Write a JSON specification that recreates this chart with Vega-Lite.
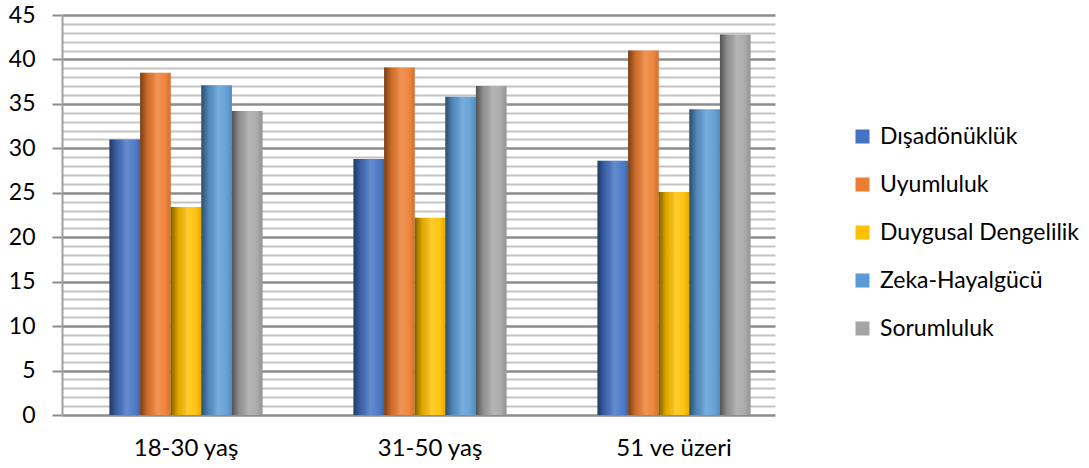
{
  "$schema": "https://vega.github.io/schema/vega-lite/v6.json",
  "width": 713,
  "height": 400,
  "autosize": {"type": "none"},
  "padding": {"left": 62, "top": 15, "right": 314, "bottom": 53},
  "background": "white",
  "config": {
    "font": "Lato",
    "view": {"stroke": null}
  },
  "data": {
    "values": [
      {"grup": "18-30 yaş", "boyut": "Dışadönüklük", "deger": 31.0},
      {"grup": "18-30 yaş", "boyut": "Uyumluluk", "deger": 38.5},
      {"grup": "18-30 yaş", "boyut": "Duygusal Dengelilik", "deger": 23.4},
      {"grup": "18-30 yaş", "boyut": "Zeka-Hayalgücü", "deger": 37.1},
      {"grup": "18-30 yaş", "boyut": "Sorumluluk", "deger": 34.2},
      {"grup": "31-50 yaş", "boyut": "Dışadönüklük", "deger": 28.8},
      {"grup": "31-50 yaş", "boyut": "Uyumluluk", "deger": 39.1},
      {"grup": "31-50 yaş", "boyut": "Duygusal Dengelilik", "deger": 22.2},
      {"grup": "31-50 yaş", "boyut": "Zeka-Hayalgücü", "deger": 35.8},
      {"grup": "31-50 yaş", "boyut": "Sorumluluk", "deger": 37.0},
      {"grup": "51 ve üzeri", "boyut": "Dışadönüklük", "deger": 28.6},
      {"grup": "51 ve üzeri", "boyut": "Uyumluluk", "deger": 41.0},
      {"grup": "51 ve üzeri", "boyut": "Duygusal Dengelilik", "deger": 25.1},
      {"grup": "51 ve üzeri", "boyut": "Zeka-Hayalgücü", "deger": 34.4},
      {"grup": "51 ve üzeri", "boyut": "Sorumluluk", "deger": 42.8}
    ]
  },
  "encoding": {
    "x": {
      "field": "grup", "type": "nominal", "sort": null,
      "scale": {"paddingInner": 0.373, "paddingOuter": 0.1475, "align": 0.66},
      "axis": {
        "title": null, "labelAngle": 0, "labelFontSize": 24, "labelColor": "#000",
        "labelPadding": 21, "domain": false, "ticks": false
      }
    },
    "xOffset": {
      "field": "boyut", "type": "nominal",
      "sort": ["Dışadönüklük", "Uyumluluk", "Duygusal Dengelilik", "Zeka-Hayalgücü", "Sorumluluk"],
      "scale": {"paddingInner": 0, "paddingOuter": 0}
    },
    "y": {
      "field": "deger", "type": "quantitative",
      "scale": {"domain": [0, 45], "nice": false},
      "axis": {
        "title": null,
        "values": [0,1,2,3,4,5,6,7,8,9,10,11,12,13,14,15,16,17,18,19,20,21,22,23,24,25,26,27,28,29,30,31,32,33,34,35,36,37,38,39,40,41,42,43,44,45],
        "labelExpr": "datum.value % 5 === 0 ? datum.label : ''",
        "labelFontSize": 23, "labelColor": "#000", "labelPadding": 17,
        "tickSize": 10, "tickWidth": 2,
        "tickColor": {"condition": {"test": "datum.value % 5 === 0", "value": "#8c8c8c"}, "value": "transparent"},
        "domainColor": "#a0a0a0", "domainWidth": 2,
        "grid": true,
        "gridColor": {"condition": {"test": "datum.value % 5 === 0", "value": "#8c8c8c"}, "value": "#c4c4c4"},
        "gridWidth": {"condition": {"test": "datum.value % 5 === 0", "value": 2.5}, "value": 2}
      }
    }
  },
  "layer": [
    {
      "mark": {"type": "bar"},
      "encoding": {
        "color": {
          "field": "boyut", "type": "nominal",
          "sort": ["Dışadönüklük", "Uyumluluk", "Duygusal Dengelilik", "Zeka-Hayalgücü", "Sorumluluk"],
          "scale": {
            "domain": ["Dışadönüklük", "Uyumluluk", "Duygusal Dengelilik", "Zeka-Hayalgücü", "Sorumluluk"],
            "range": ["#4472C4", "#ED7D31", "#FFC000", "#5B9BD5", "#A5A5A5"]
          },
          "legend": {
            "title": null, "orient": "none", "legendX": 789, "legendY": 110,
            "symbolType": "square", "symbolSize": 196, "symbolStrokeWidth": 0,
            "labelFontSize": 23, "labelColor": "#000", "rowPadding": 24, "labelOffset": 6,
            "labelLimit": 300
          }
        }
      }
    },
    {
      "mark": {
        "type": "bar",
        "fill": {
          "gradient": "linear", "x1": 0, "y1": 0, "x2": 1, "y2": 0,
          "stops": [
            {"offset": 0, "color": "rgba(0,0,0,0.5)"},
            {"offset": 0.25, "color": "rgba(0,0,0,0.12)"},
            {"offset": 0.55, "color": "rgba(255,255,255,0.18)"},
            {"offset": 0.8, "color": "rgba(255,255,255,0.08)"},
            {"offset": 1, "color": "rgba(0,0,0,0.12)"}
          ]
        }
      }
    }
  ]
}
